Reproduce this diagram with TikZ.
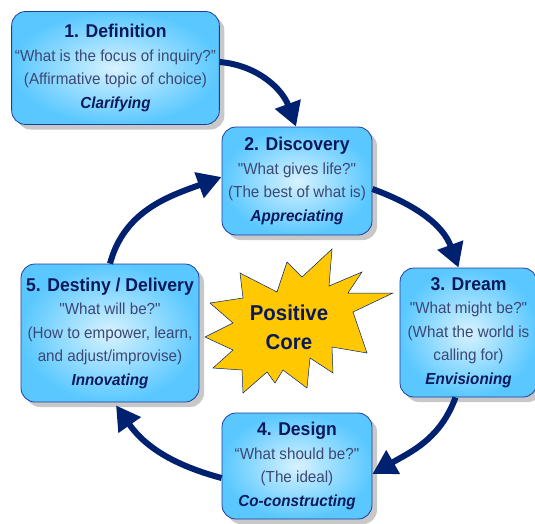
\documentclass[tikz,border=0pt]{standalone}
\usepackage{fontspec}
\setmainfont{Liberation Sans}[FakeStretch=0.95,Ligatures=TeXOff]
\usetikzlibrary{arrows.meta,shadows}

\definecolor{navy}{RGB}{0,32,112}
\definecolor{boxline}{RGB}{30,60,160}
\definecolor{boxin}{RGB}{215,242,255}
\definecolor{boxout}{RGB}{90,200,255}
\definecolor{shadowgray}{RGB}{200,200,200}
\definecolor{titletext}{RGB}{10,25,90}
\definecolor{bodytext}{RGB}{60,72,115}
\definecolor{starfill}{RGB}{255,200,0}

\begin{document}
\begin{tikzpicture}[x=1pt,y=1pt,
    phase/.style={draw=boxline,line width=0.8pt,rounded corners=14pt,
      inner color=boxin,outer color=boxout,
      drop shadow={shadow xshift=5pt,shadow yshift=-5pt,fill=shadowgray,opacity=1},
      align=center,text=bodytext,font=\fontsize{16}{23.5}\selectfont},
    cyclearrow/.style={navy,line width=6pt,-{Triangle[length=24pt,width=26pt]}}]

    \useasboundingbox (0,0) rectangle (535,-523);

% positive core star
    \draw[fill=starfill,draw=navy,line width=0.5pt]
      (332,-249) -- (329,-286) -- (362,-272) -- (348,-293) -- (393,-293) -- (353,-312)
      -- (367,-353) -- (332,-347) -- (333,-373) -- (310,-358) -- (307,-388) -- (283,-370)
      -- (275,-383) -- (267,-372) -- (243,-393) -- (242,-370) -- (213,-368) -- (233,-350)
      -- (205,-337) -- (233,-323) -- (210,-303) -- (243,-298) -- (240,-273) -- (277,-292)
      -- (287,-262) -- (302,-277) -- cycle;
    \node[text=titletext,font=\fontsize{21.5}{29}\selectfont\bfseries,align=center]
      (core) at (289,-327) {Positive\\Core};

% the five phases
      \foreach \name/\x/\y/\w/\h/\head/\body/\gerund in {
          def/115.5/68/201/113/{1. Definition}/{“What is the focus of inquiry?”\\(Affirmative topic of choice)}/Clarifying,
          disc/297/181/150/108/{2. Discovery}/{"What gives life?"\\(The best of what is)}/Appreciating,
          dream/468.5/332.5/137/129/{3. Dream}/{"What might be?"\\(What the world is\\calling for)}/Envisioning,
          design/297/466/150/106/{4. Design}/{“What should be?"\\(The ideal)}/Co-constructing,
          dest/110/333/178/138/{5. Destiny / Delivery}/{"What will be?"\\(How to empower, learn,\\and adjust/improvise)}/Innovating}
      {
        \node[phase,minimum width=\w pt,minimum height=\h pt] (\name) at (\x,-\y)
          {{\fontsize{18.5}{23.5}\selectfont\bfseries\color{titletext}\head}\\\body\\{\bfseries\itshape\color{titletext}\gerund}};
      };

% arrows round the cycle
    \draw[cyclearrow] ([yshift=6pt]def.east) to[out=-5,in=110] ([xshift=-1pt]disc.north);
    \draw[cyclearrow] ([yshift=-8pt]disc.east) to[out=-20,in=110] ([xshift=-10pt]dream.north);
    \draw[cyclearrow] ([xshift=-13pt]dream.south) to[out=-110,in=30] ([yshift=-8pt]design.east);
    \draw[cyclearrow] ([yshift=-12pt]design.west) to[out=165,in=-55] ([xshift=6pt,yshift=-3pt]dest.south);
    \draw[cyclearrow] (dest.north) to[out=75,in=200] ([yshift=4pt]disc.west);

    \end{tikzpicture}
\end{document}
